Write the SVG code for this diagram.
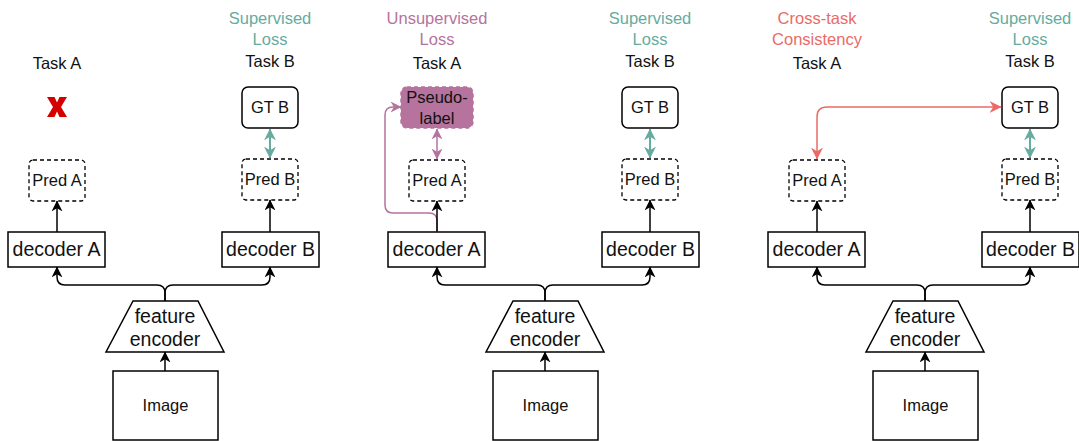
<svg xmlns="http://www.w3.org/2000/svg" width="1079" height="441" viewBox="0 0 1079 441">
  <style>
    .box { fill: #ffffff; stroke: #000000; stroke-width: 1.5; }
    .dash { fill: #ffffff; stroke: #000000; stroke-width: 1.3; stroke-dasharray: 4 3; }
    .pseudo { fill: #B5739D; stroke: #B5739D; stroke-width: 1.5; stroke-dasharray: 4 3; }
    .t { font-family: "Liberation Sans", Arial, sans-serif; font-size: 16.5px; text-anchor: middle; fill: #111111; }
    .big { font-size: 19.5px; }
    .sup { fill: #67AB9F; }
    .unsup { fill: #B5739D; }
    .cross { fill: #EA6B66; }
    .edge { fill: none; stroke: #000000; stroke-width: 1.5; }
    .g-edge { fill: none; stroke: #67AB9F; stroke-width: 2; }
    .p-edge { fill: none; stroke: #B5739D; stroke-width: 1.5; }
    .r-edge { fill: none; stroke: #EA6B66; stroke-width: 1.5; }
  </style>
  <defs>
    <marker id="arrK" viewBox="0 0 10 10" refX="9.5" refY="5" markerWidth="11" markerHeight="11" markerUnits="userSpaceOnUse" orient="auto-start-reverse">
      <path d="M0,0 L10,5 L0,10 L3,5 z" fill="#000000"/>
    </marker>
    <marker id="arrG" viewBox="0 0 10 10" refX="9.5" refY="5" markerWidth="12" markerHeight="12" markerUnits="userSpaceOnUse" orient="auto-start-reverse">
      <path d="M0,0 L10,5 L0,10 L3,5 z" fill="#67AB9F"/>
    </marker>
    <marker id="arrP" viewBox="0 0 10 10" refX="9.5" refY="5" markerWidth="11" markerHeight="11" markerUnits="userSpaceOnUse" orient="auto-start-reverse">
      <path d="M0,0 L10,5 L0,10 L3,5 z" fill="#B5739D"/>
    </marker>
    <marker id="arrR" viewBox="0 0 10 10" refX="9.5" refY="5" markerWidth="12" markerHeight="12" markerUnits="userSpaceOnUse" orient="auto-start-reverse">
      <path d="M0,0 L10,5 L0,10 L3,5 z" fill="#EA6B66"/>
    </marker>
  </defs>

  <!-- ===== Panel 1: supervised only ===== -->
  <g id="panel1">
    <g id="p1-labels">
      <text class="t" x="57" y="69">Task A</text>
      <text class="t sup" x="270" y="24">Supervised</text>
      <text class="t sup" x="270" y="45">Loss</text>
      <text class="t" x="270" y="67">Task B</text>
    </g>
    <g id="p1-missing">
      <path d="M47,97 L54.5,97 L57,102.5 L59.5,97 L67,97 L61,107 L67,117 L59.5,117 L57,111.5 L54.5,117 L47,117 L53,107 z" fill="#D40000"/>
    </g>
    <g id="p1-gtB"><rect class="box" x="242" y="87" width="56" height="41" rx="6"/><text class="t" x="270" y="113">GT B</text></g>
    <g id="p1-predA"><rect class="dash" x="29" y="160" width="56" height="41" rx="4"/><text class="t" x="57" y="186">Pred A</text></g>
    <g id="p1-predB"><rect class="dash" x="242" y="159" width="56" height="41" rx="4"/><text class="t" x="270" y="185">Pred B</text></g>
    <g id="p1-decA"><rect class="box" x="8" y="232" width="97" height="35"/><text class="t big" x="56.5" y="256">decoder A</text></g>
    <g id="p1-decB"><rect class="box" x="222" y="232" width="97" height="35"/><text class="t big" x="270.5" y="256">decoder B</text></g>
    <g id="p1-enc"><path class="box" d="M133,301 L198,301 L224,352 L106,352 z"/><text class="t big" x="165" y="323">feature</text><text class="t big" x="165" y="346">encoder</text></g>
    <g id="p1-img"><rect class="box" x="113" y="371" width="105" height="69"/><text class="t" x="165.5" y="411">Image</text></g>
    <g id="p1-edges">
      <path class="edge" d="M165,371 V352" marker-end="url(#arrK)"/>
      <path class="edge" d="M165,301 V293 Q165,285 157,285 H65 Q57,285 57,277 V267" marker-end="url(#arrK)"/>
      <path class="edge" d="M165,301 V293 Q165,285 173,285 H262 Q270,285 270,277 V267" marker-end="url(#arrK)"/>
      <path class="edge" d="M57,232 V201" marker-end="url(#arrK)"/>
      <path class="edge" d="M270,232 V200" marker-end="url(#arrK)"/>
      <path class="g-edge" d="M270,129 V158" marker-start="url(#arrG)" marker-end="url(#arrG)"/>
    </g>
  </g>

  <!-- ===== Panel 2: pseudo-label on task A ===== -->
  <g id="panel2" transform="translate(380,0)">
    <g id="p2-labels">
      <text class="t unsup" x="57" y="24">Unsupervised</text>
      <text class="t unsup" x="57" y="45">Loss</text>
      <text class="t" x="57" y="69">Task A</text>
      <text class="t sup" x="270" y="24">Supervised</text>
      <text class="t sup" x="270" y="45">Loss</text>
      <text class="t" x="270" y="67">Task B</text>
    </g>
    <g id="p2-pseudo"><rect class="pseudo" x="21" y="87" width="72" height="41" rx="6"/><text class="t" x="57" y="103">Pseudo-</text><text class="t" x="57" y="124">label</text></g>
    <g id="p2-gtB"><rect class="box" x="242" y="87" width="56" height="41" rx="6"/><text class="t" x="270" y="113">GT B</text></g>
    <g id="p2-predA"><rect class="dash" x="29" y="160" width="56" height="41" rx="4"/><text class="t" x="57" y="186">Pred A</text></g>
    <g id="p2-predB"><rect class="dash" x="242" y="159" width="56" height="41" rx="4"/><text class="t" x="270" y="185">Pred B</text></g>
    <g id="p2-decA"><rect class="box" x="8" y="232" width="97" height="35"/><text class="t big" x="56.5" y="256">decoder A</text></g>
    <g id="p2-decB"><rect class="box" x="222" y="232" width="97" height="35"/><text class="t big" x="270.5" y="256">decoder B</text></g>
    <g id="p2-enc"><path class="box" d="M133,301 L198,301 L224,352 L106,352 z"/><text class="t big" x="165" y="323">feature</text><text class="t big" x="165" y="346">encoder</text></g>
    <g id="p2-img"><rect class="box" x="113" y="371" width="105" height="69"/><text class="t" x="165.5" y="411">Image</text></g>
    <g id="p2-edges">
      <path class="p-edge" d="M57,232 V221 Q57,213 49,213 H13 Q5,213 5,205 V115 Q5,107 13,107 H21" marker-end="url(#arrP)"/>
      <path class="p-edge" d="M57,129 V159" stroke-width="2" marker-start="url(#arrP)" marker-end="url(#arrP)"/>
      <path class="edge" d="M165,371 V352" marker-end="url(#arrK)"/>
      <path class="edge" d="M165,301 V293 Q165,285 157,285 H65 Q57,285 57,277 V267" marker-end="url(#arrK)"/>
      <path class="edge" d="M165,301 V293 Q165,285 173,285 H262 Q270,285 270,277 V267" marker-end="url(#arrK)"/>
      <path class="edge" d="M57,232 V201" marker-end="url(#arrK)"/>
      <path class="edge" d="M270,232 V200" marker-end="url(#arrK)"/>
      <path class="g-edge" d="M270,129 V158" marker-start="url(#arrG)" marker-end="url(#arrG)"/>
    </g>
  </g>

  <!-- ===== Panel 3: cross-task consistency ===== -->
  <g id="panel3" transform="translate(760,0)">
    <g id="p3-labels">
      <text class="t cross" x="57" y="24">Cross-task</text>
      <text class="t cross" x="57" y="45">Consistency</text>
      <text class="t" x="57" y="69">Task A</text>
      <text class="t sup" x="270" y="24">Supervised</text>
      <text class="t sup" x="270" y="45">Loss</text>
      <text class="t" x="270" y="67">Task B</text>
    </g>
    <g id="p3-gtB"><rect class="box" x="242" y="87" width="56" height="41" rx="6"/><text class="t" x="270" y="113">GT B</text></g>
    <g id="p3-predA"><rect class="dash" x="29" y="160" width="56" height="41" rx="4"/><text class="t" x="57" y="186">Pred A</text></g>
    <g id="p3-predB"><rect class="dash" x="242" y="159" width="56" height="41" rx="4"/><text class="t" x="270" y="185">Pred B</text></g>
    <g id="p3-decA"><rect class="box" x="8" y="232" width="97" height="35"/><text class="t big" x="56.5" y="256">decoder A</text></g>
    <g id="p3-decB"><rect class="box" x="222" y="232" width="97" height="35"/><text class="t big" x="270.5" y="256">decoder B</text></g>
    <g id="p3-enc"><path class="box" d="M133,301 L198,301 L224,352 L106,352 z"/><text class="t big" x="165" y="323">feature</text><text class="t big" x="165" y="346">encoder</text></g>
    <g id="p3-img"><rect class="box" x="113" y="371" width="105" height="69"/><text class="t" x="165.5" y="411">Image</text></g>
    <g id="p3-edges">
      <path class="r-edge" d="M57,159 V117 Q57,107 67,107 H241" marker-start="url(#arrR)" marker-end="url(#arrR)"/>
      <path class="edge" d="M165,371 V352" marker-end="url(#arrK)"/>
      <path class="edge" d="M165,301 V293 Q165,285 157,285 H65 Q57,285 57,277 V267" marker-end="url(#arrK)"/>
      <path class="edge" d="M165,301 V293 Q165,285 173,285 H262 Q270,285 270,277 V267" marker-end="url(#arrK)"/>
      <path class="edge" d="M57,232 V201" marker-end="url(#arrK)"/>
      <path class="edge" d="M270,232 V200" marker-end="url(#arrK)"/>
      <path class="g-edge" d="M270,129 V158" marker-start="url(#arrG)" marker-end="url(#arrG)"/>
    </g>
  </g>
</svg>
